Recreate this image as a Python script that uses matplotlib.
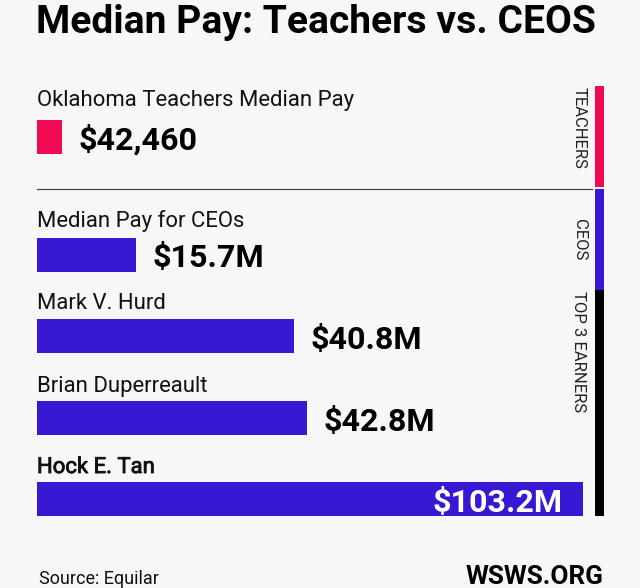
import matplotlib.pyplot as plt
import matplotlib.patheffects as pe
from matplotlib.patches import Rectangle

plt.rcParams['font.family'] = ['Roboto', 'DejaVu Sans']

# Pay figures (US dollars, millions)
names = ['Oklahoma Teachers Median Pay', 'Median Pay for CEOs',
         'Mark V. Hurd', 'Brian Duperreault', 'Hock E. Tan']
pay = [0.04246, 15.7, 40.8, 42.8, 103.2]
value_labels = ['$42,460', '$15.7M', '$40.8M', '$42.8M', '$103.2M']
groups = ['TEACHERS', 'CEOS', 'TOP 3 EARNERS']

RED = '#ef0a52'
BLUE = '#3918d4'
BG = '#f7f7f7'
W, H = 640, 588
X_MAX = 86.7        # axis cut-off, the largest bar runs off the end
MIN_WIDTH = 4.0     # keep tiny values visible

# layout in pixels from the top edge
bar_mid = [137, 254.5, 336, 417.5, 499]
name_base = [106, 226.7, 309, 391.7, 473]
bar_colors = [RED, BLUE, BLUE, BLUE, BLUE]
# top earner's name gets a slightly heavier stroke
name_stroke = [0, 0, 0, 0, 0.6]

fig = plt.figure(figsize=(W / 100, H / 100), dpi=100, facecolor=BG)


def fx(x):
    return x / W


def fy(y):
    return 1 - y / H


ax = fig.add_axes([fx(37), 0, fx(583) - fx(37), 1])
ax.set_facecolor('none')
ax.set_xlim(0, X_MAX)
ax.set_ylim(H, 0)
ax.axis('off')

widths = [max(v, MIN_WIDTH) for v in pay]
ax.barh(bar_mid, widths, height=34, color=bar_colors)

for i, name in enumerate(names):
    t = ax.text(0, name_base[i], name, fontsize=15.9, color='#111111', va='baseline')
    if name_stroke[i]:
        t.set_path_effects([pe.withStroke(linewidth=name_stroke[i], foreground='#111111')])
    if pay[i] > X_MAX:
        ax.annotate(value_labels[i], (X_MAX, bar_mid[i] + 13), xytext=(-15, 0),
                    textcoords='offset points', ha='right', va='baseline',
                    fontsize=23.2, fontweight='bold', color='white')
    else:
        ax.annotate(value_labels[i], (widths[i], bar_mid[i] + 13), xytext=(12, 0),
                    textcoords='offset points', ha='left', va='baseline',
                    fontsize=23.2, fontweight='bold', color='black')

# divider between teachers and CEOs
fig.add_artist(plt.Line2D([fx(37), fx(592)], [fy(189.3), fy(189.3)],
                          color='#444444', lw=0.9))

# group markers down the right edge
segs = [(86, 187, RED), (189, 290, BLUE), (290, 516, 'black')]
for top, bot, c in segs:
    fig.add_artist(Rectangle((fx(595), fy(bot)), fx(604) - fx(595), (bot - top) / H,
                             transform=fig.transFigure, color=c, lw=0))

fig.text(fx(579), fy(87), groups[0], rotation=-90, ha='center', va='top',
         fontsize=12, color='#222222')
fig.text(fx(579), fy(239.5), groups[1], rotation=-90, ha='center', va='center',
         fontsize=12, color='#222222')
fig.text(fx(579), fy(291), groups[2], rotation=-90, ha='center', va='top',
         fontsize=12, color='#222222')

fig.text(fx(36), fy(33.3), 'Median Pay: Teachers vs. CEOS', fontsize=28.1,
         fontweight='bold', va='baseline', color='black')
fig.text(fx(39), fy(584), 'Source: Equilar', fontsize=13, va='baseline',
         color='#111111')
fig.text(fx(603), fy(584.3), 'WSWS.ORG', fontsize=18.8, fontweight='bold',
         ha='right', va='baseline', color='black')

plt.savefig('out.png', dpi=100, facecolor=BG)
